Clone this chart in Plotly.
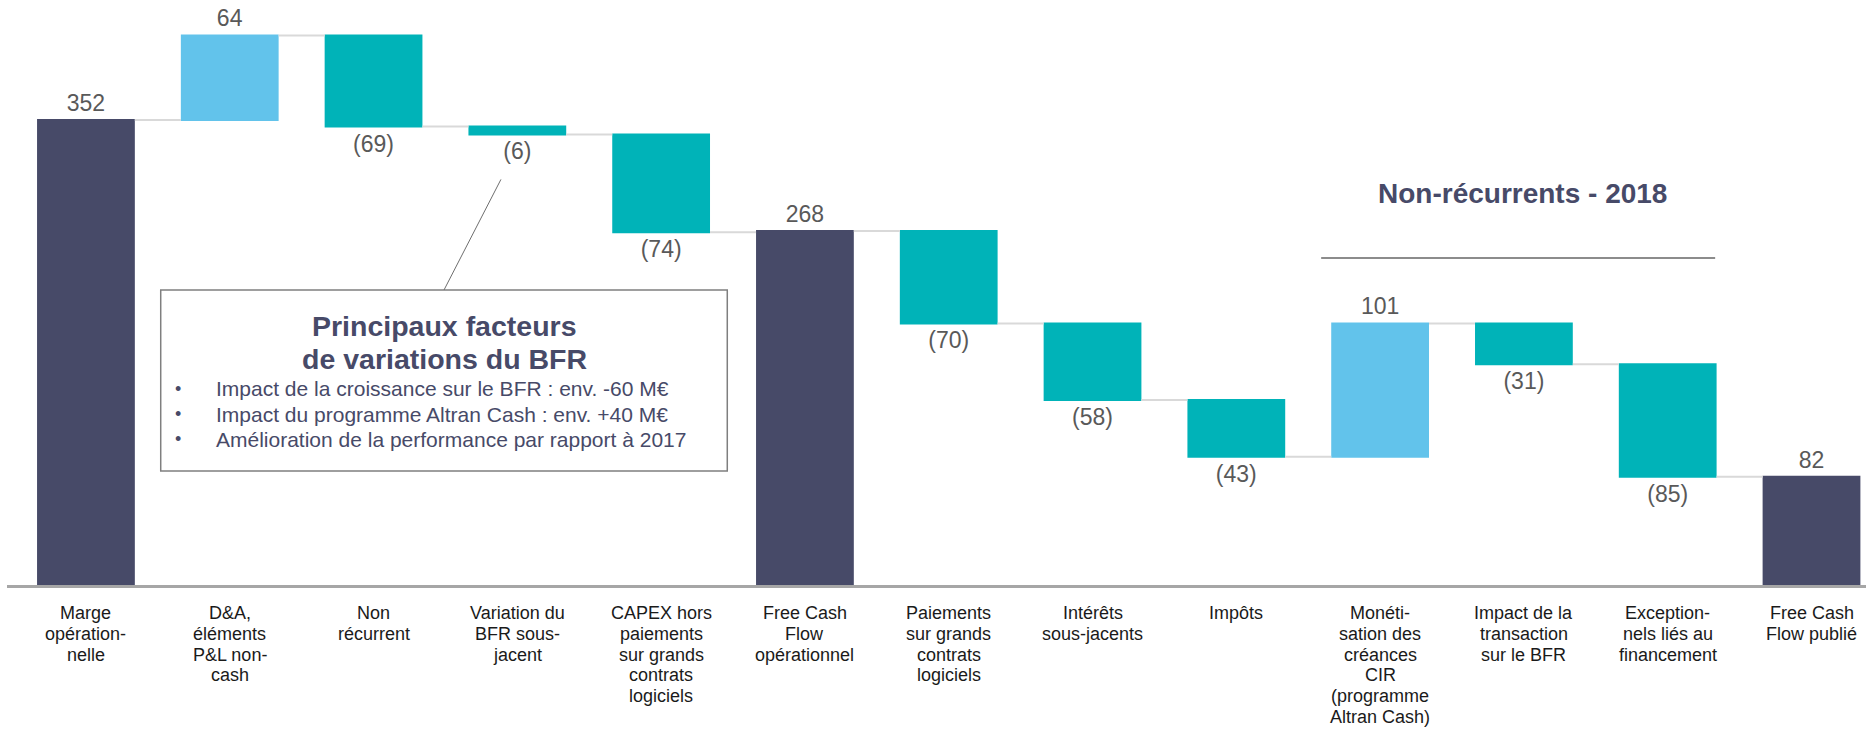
import plotly.graph_objects as go

categories = [
    "Marge<br>opération-<br>nelle",
    "D&amp;A,<br>éléments<br>P&amp;L non-<br>cash",
    "Non<br>récurrent",
    "Variation du<br>BFR sous-<br>jacent",
    "CAPEX hors<br>paiements<br>sur grands<br>contrats<br>logiciels",
    "Free Cash<br>Flow<br>opérationnel",
    "Paiements<br>sur grands<br>contrats<br>logiciels",
    "Intérêts<br>sous-jacents",
    "Impôts",
    "Monéti-<br>sation des<br>créances<br>CIR<br>(programme<br>Altran Cash)",
    "Impact de la<br>transaction<br>sur le BFR",
    "Exception-<br>nels liés au<br>financement",
    "Free Cash<br>Flow publié",
]
values = [352, 64, -69, -6, -74, 268, -70, -58, -43, 101, -31, -85, 82]
measures = ["absolute", "relative", "relative", "relative", "relative", "absolute",
            "relative", "relative", "relative", "relative", "relative", "relative", "total"]
value_labels = ["352", "64", "(69)", "(6)", "(74)", "268", "(70)", "(58)", "(43)",
                "101", "(31)", "(85)", "82"]

box_title_lines = ["Principaux facteurs", "de variations du BFR"]
box_bullets = [
    "Impact de la croissance sur le BFR : env. -60 M€",
    "Impact du programme Altran Cash : env. +40 M€",
    "Amélioration de la performance par rapport à 2017",
]
section_title = "Non-récurrents - 2018"

NAVY = "#474A68"
LIGHT = "#62C3EB"
TEAL = "#00B3B8"
FONT = "Liberation Sans, Arial"

x = list(range(len(categories)))

fig = go.Figure(go.Waterfall(
    x=x, y=values, measure=measures,
    text=value_labels, textposition="outside",
    textfont=dict(family=FONT, size=23, color="#595959"),
    constraintext="none", cliponaxis=False,
    increasing=dict(marker=dict(color=LIGHT)),
    decreasing=dict(marker=dict(color=TEAL)),
    totals=dict(marker=dict(color=NAVY)),
    connector=dict(mode="between", line=dict(color="#D9D9D9", width=2)),
    width=0.68,
    hoverinfo="skip",
))

# category labels below the axis (one text per line, tight PowerPoint-like line spacing)
LINE_STEP = 20.8
FIRST_OFFSET = 28
for xi, cat in zip(x, categories):
    for k, line in enumerate(cat.split("<br>")):
        fig.add_annotation(x=xi, y=0, xref="x", yref="paper", text=line, showarrow=False,
                           xanchor="center", yanchor="middle",
                           yshift=-(FIRST_OFFSET + LINE_STEP * k),
                           font=dict(family=FONT, size=18, color="#1A1A1A"))

# callout box
fig.add_shape(type="rect", xref="x", yref="y", x0=0.52, x1=4.46, y0=86.3, y1=223.3,
              line=dict(color="#7F7F7F", width=1.5), fillcolor="white", layer="above")
fig.add_shape(type="line", xref="x", yref="y", x0=2.886, y0=307, x1=2.49, y1=223.3,
              line=dict(color="#6E6E6E", width=1), layer="above")
for t, yy in zip(box_title_lines, [196.3, 171.3]):
    fig.add_annotation(x=2.49, y=yy, xref="x", yref="y", text="<b>" + t + "</b>",
                       showarrow=False, align="center",
                       font=dict(family=FONT, size=28.5, color=NAVY))
bullet_y = [148.4, 129.4, 110.5]
for b, yy in zip(box_bullets, bullet_y):
    fig.add_annotation(x=0.641, y=yy, xref="x", yref="y", text="•", showarrow=False,
                       xanchor="center", font=dict(family=FONT, size=18, color=NAVY))
    fig.add_annotation(x=0.889, y=yy, xref="x", yref="y", text=b, showarrow=False,
                       xanchor="left", font=dict(family=FONT, size=21, color=NAVY))

# non-recurring section title
fig.add_annotation(x=9.99, y=296, xref="x", yref="y", text="<b>" + section_title + "</b>",
                   showarrow=False, font=dict(family=FONT, size=28, color=NAVY))
fig.add_shape(type="line", xref="x", yref="y", x0=8.59, x1=11.33, y0=247.5, y1=247.5,
              line=dict(color="#8C8C8C", width=2))

fig.update_layout(
    width=1866, height=729,
    margin=dict(l=7, r=0, t=0, b=144),
    plot_bgcolor="white", paper_bgcolor="white",
    showlegend=False,
    xaxis=dict(range=[-0.549, 12.379], tickmode="array", tickvals=x,
               showticklabels=False,
               showgrid=False, zeroline=False, showline=True, linecolor="#A6A6A6", linewidth=3,
               ticks="", automargin=False),
    yaxis=dict(range=[0, 442.8], visible=False, automargin=False),
)

fig.write_html("out.html", config={"displayModeBar": False},
               post_script="document.body.style.margin='0';document.body.style.overflow='hidden';")
